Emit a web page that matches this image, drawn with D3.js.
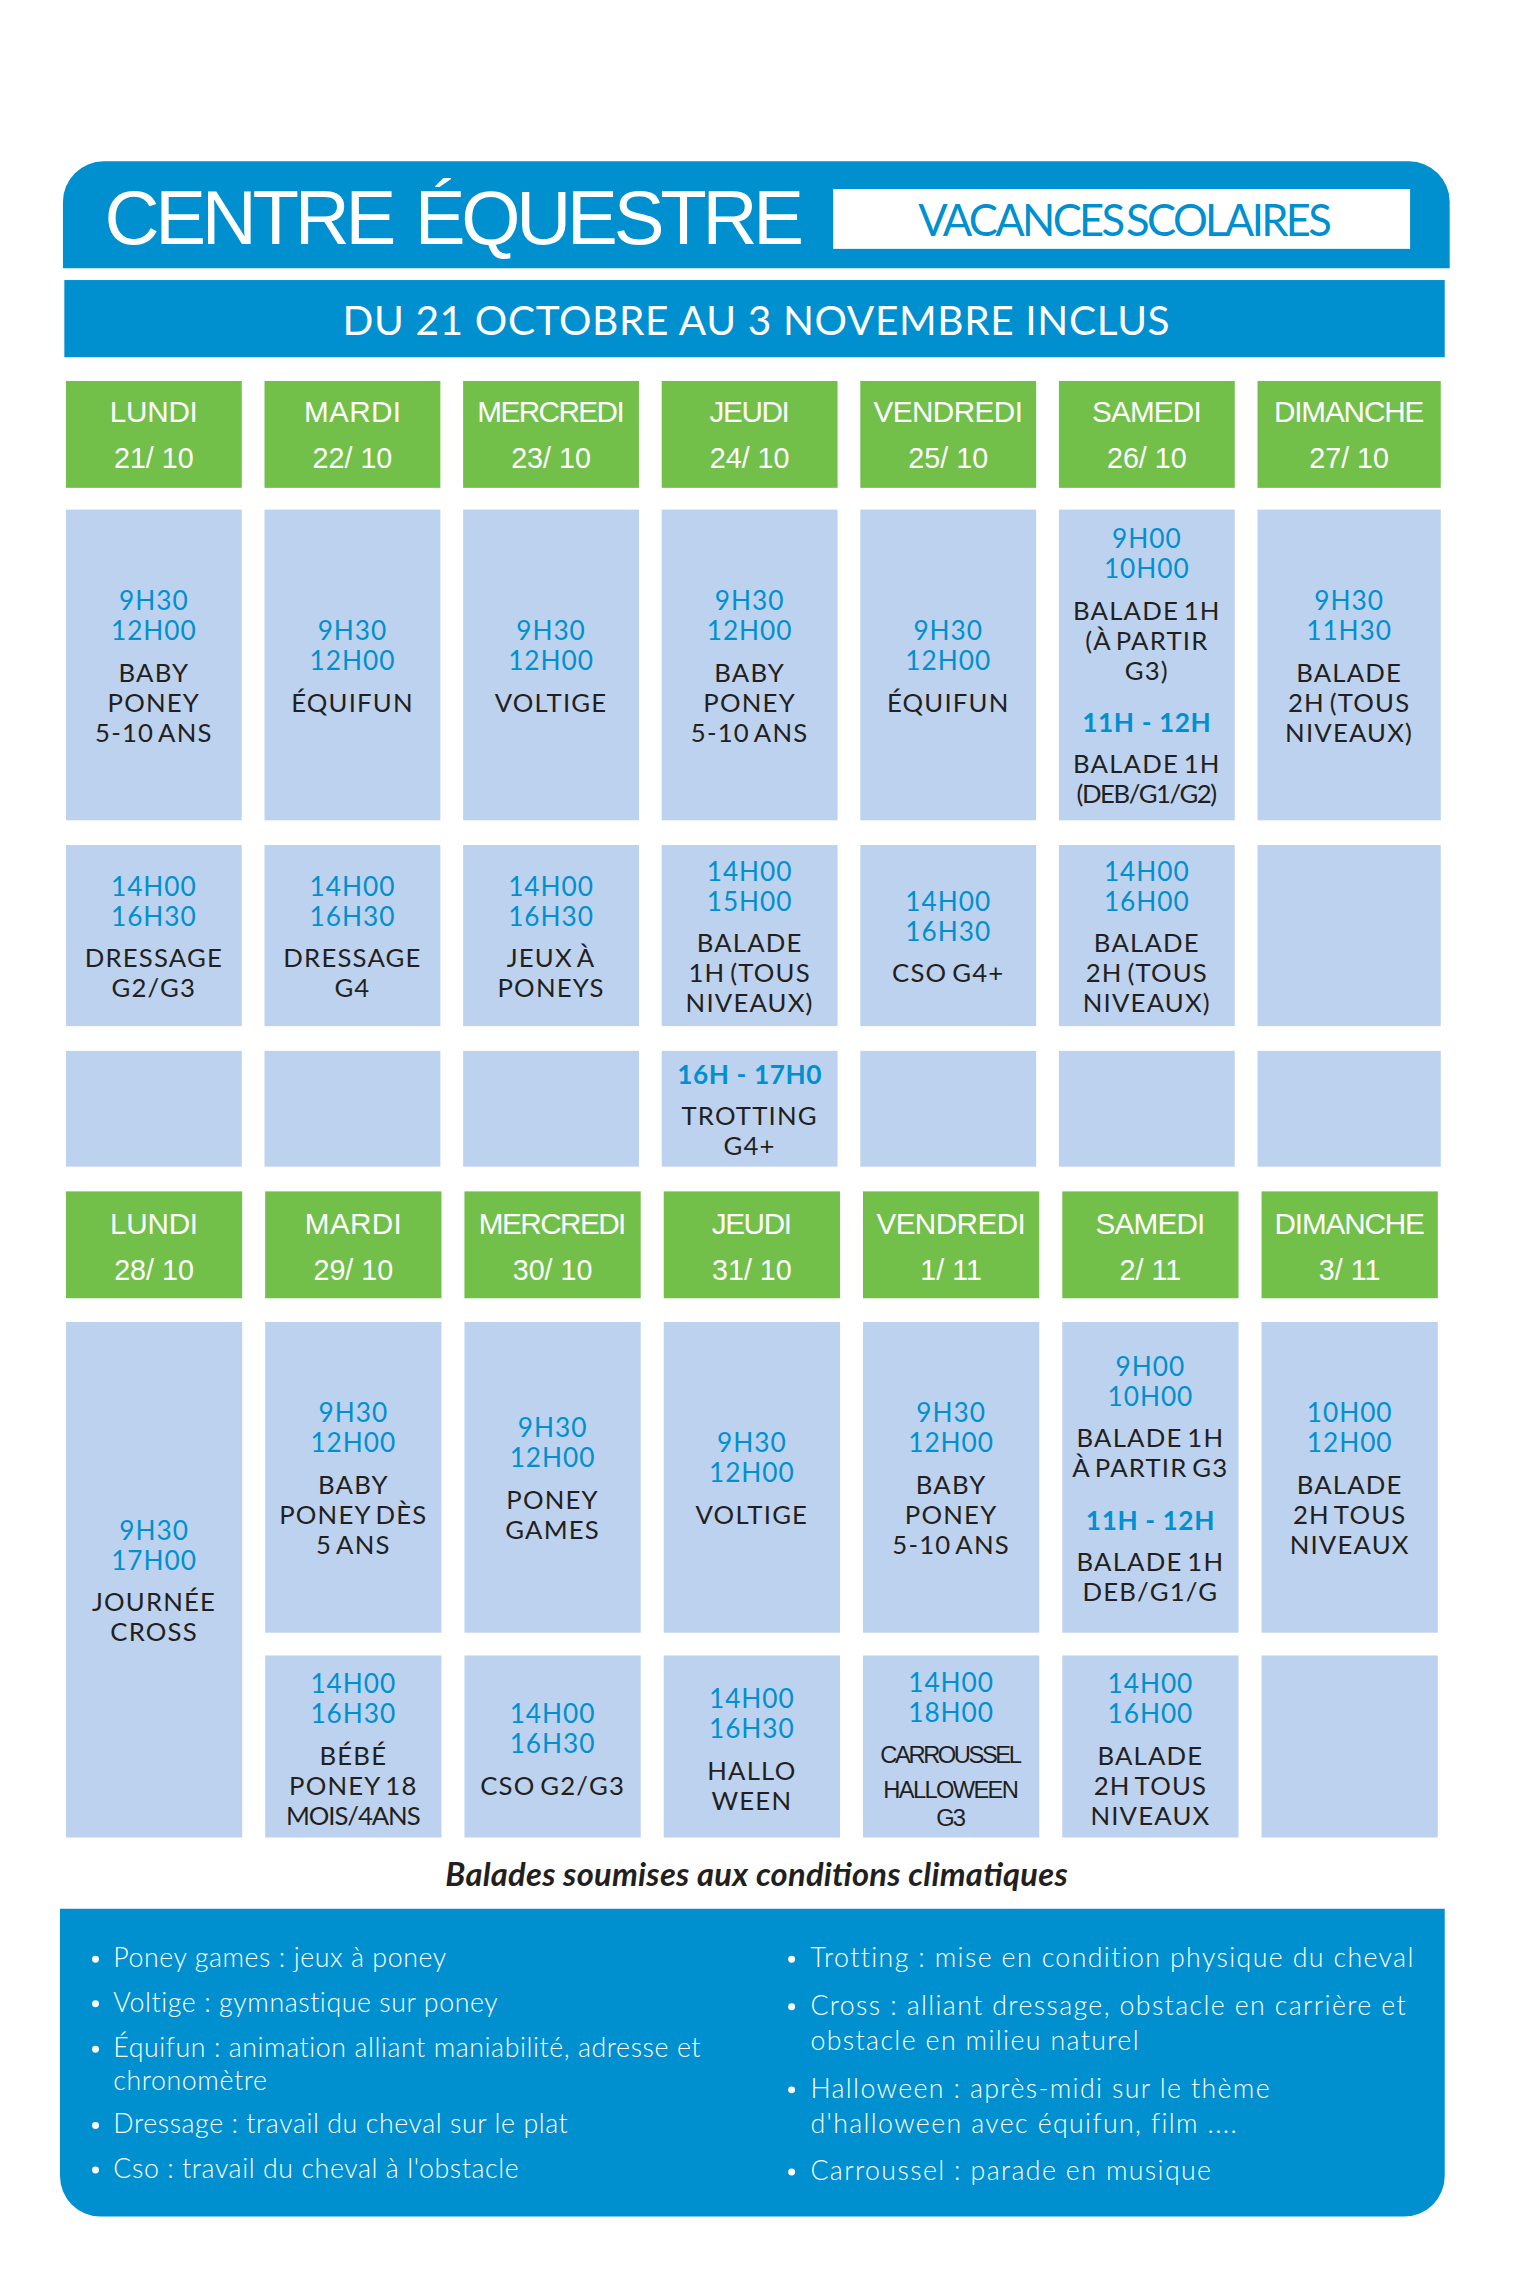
<!DOCTYPE html>
<html lang="fr">
<head>
<meta charset="utf-8">
<title>Centre équestre - vacances scolaires</title>
<script src="https://cdn.jsdelivr.net/npm/d3@7"></script>
<style>
body { margin: 0; background: #fff; }
svg { display: block; }
</style>
</head>
<body>
<div id="vis"></div>
<script>
var titleText = "CENTRE ÉQUESTRE";
var badgeText = "VACANCES SCOLAIRES";
var periodText = "DU 21 OCTOBRE AU 3 NOVEMBRE INCLUS";
var captionText = "Balades soumises aux conditions climatiques";

var dayNames = ["LUNDI", "MARDI", "MERCREDI", "JEUDI", "VENDREDI", "SAMEDI", "DIMANCHE"];
var week1Dates = ["21/ 10", "22/ 10", "23/ 10", "24/ 10", "25/ 10", "26/ 10", "27/ 10"];
var week2Dates = ["28/ 10", "29/ 10", "30/ 10", "31/ 10", "1/ 11", "2/ 11", "3/ 11"];

// each cell: times, labels, times, labels...
var week1Morning = [
    [["9H30", "12H00"], ["BABY", "PONEY", "5-10 ANS"]],
    [["9H30", "12H00"], ["ÉQUIFUN"]],
    [["9H30", "12H00"], ["VOLTIGE"]],
    [["9H30", "12H00"], ["BABY", "PONEY", "5-10 ANS"]],
    [["9H30", "12H00"], ["ÉQUIFUN"]],
    [["9H00", "10H00"], ["BALADE 1H", "(À PARTIR", "G3)"], ["11H - 12H"], ["BALADE 1H", "(DEB/G1/G2)"]],
    [["9H30", "11H30"], ["BALADE", "2H (TOUS", "NIVEAUX)"]]
];
var week1Afternoon = [
    [["14H00", "16H30"], ["DRESSAGE", "G2/G3"]],
    [["14H00", "16H30"], ["DRESSAGE", "G4"]],
    [["14H00", "16H30"], ["JEUX À", "PONEYS"]],
    [["14H00", "15H00"], ["BALADE", "1H (TOUS", "NIVEAUX)"]],
    [["14H00", "16H30"], ["CSO G4+"]],
    [["14H00", "16H00"], ["BALADE", "2H (TOUS", "NIVEAUX)"]],
    []
];
var week1Late = [
    [], [], [],
    [["16H - 17H0"], ["TROTTING", "G4+"]],
    [], [], []
];
var week2Morning = [
    [["9H30", "17H00"], ["JOURNÉE", "CROSS"]],
    [["9H30", "12H00"], ["BABY", "PONEY DÈS", "5 ANS"]],
    [["9H30", "12H00"], ["PONEY", "GAMES"]],
    [["9H30", "12H00"], ["VOLTIGE"]],
    [["9H30", "12H00"], ["BABY", "PONEY", "5-10 ANS"]],
    [["9H00", "10H00"], ["BALADE 1H", "À PARTIR G3"], ["11H - 12H"], ["BALADE 1H", "DEB/G1/G"]],
    [["10H00", "12H00"], ["BALADE", "2H TOUS", "NIVEAUX"]]
];
var week2Afternoon = [
    null,
    [["14H00", "16H30"], ["BÉBÉ", "PONEY 18", "MOIS/4ANS"]],
    [["14H00", "16H30"], ["CSO G2/G3"]],
    [["14H00", "16H30"], ["HALLO", "WEEN"]],
    [["14H00", "18H00"], ["CARROUSSEL", "HALLOWEEN", "G3"]],
    [["14H00", "16H00"], ["BALADE", "2H TOUS", "NIVEAUX"]],
    []
];

var legendLeft = [
    ["Poney games : jeux à poney"],
    ["Voltige : gymnastique sur poney"],
    ["Équifun : animation alliant maniabilité, adresse et", "chronomètre"],
    ["Dressage : travail du cheval sur le plat"],
    ["Cso : travail du cheval à l'obstacle"]
];
var legendRight = [
    ["Trotting : mise en condition physique du cheval"],
    ["Cross : alliant dressage, obstacle en carrière et", "obstacle en milieu naturel"],
    ["Halloween : après-midi sur le thème", "d'halloween avec équifun, film ...."],
    ["Carroussel : parade en musique"]
];

var BLUE = "#0090d0", GREEN = "#72bf4a", CELL = "#bdd2ee", INK = "#231f20";
var LATO = "Lato, sans-serif", ARIAL = "'Liberation Sans', Arial, sans-serif";

// the layout below is measured on a 1531 wide sheet
var svg = d3.select("#vis").append("svg")
    .attr("width", 1515)
    .attr("height", 2295)
    .attr("viewBox", "0 0 1531 2319.3");

// widths of the day names as set in the poster
var dayFit = {LUNDI: 89, MARDI: 98, MERCREDI: 149, JEUDI: 81, VENDREDI: 151, SAMEDI: 111, DIMANCHE: 152};

var x1 = d3.scaleBand().domain(dayNames).range([66.6, 1448.5]).paddingInner(0.1146);
var x2 = d3.scaleBand().domain(dayNames).range([66.6, 1453]).paddingInner(0.1155);

var rowNames = ["head1", "morning1", "afternoon1", "late1", "head2", "morning2", "afternoon2"];
var rowTop = d3.scaleOrdinal().domain(rowNames).range([385, 515, 854, 1062, 1204, 1336, 1673]);
var rowBottom = d3.scaleOrdinal().domain(rowNames).range([493, 829, 1037, 1179, 1312, 1650, 1857]);

function roundedBlock(x, y, w, h, r, atTop) {
    var p = d3.path();
    if (atTop) {
        p.moveTo(x, y + h);
        p.lineTo(x, y + r);
        p.arcTo(x, y, x + r, y, r);
        p.lineTo(x + w - r, y);
        p.arcTo(x + w, y, x + w, y + r, r);
        p.lineTo(x + w, y + h);
    } else {
        p.moveTo(x, y);
        p.lineTo(x + w, y);
        p.lineTo(x + w, y + h - r);
        p.arcTo(x + w, y + h, x + w - r, y + h, r);
        p.lineTo(x + r, y + h);
        p.arcTo(x, y + h, x, y + h - r, r);
    }
    p.closePath();
    return p.toString();
}

function addText(parent, str, x, y, o) {
    var t = parent.append("text")
        .attr("x", x)
        .attr("y", y)
        .attr("text-anchor", o.anchor || "middle")
        .attr("font-family", o.family || LATO)
        .attr("font-size", o.size)
        .attr("font-weight", o.weight || 400)
        .attr("font-style", o.italic ? "italic" : null)
        .attr("fill", o.fill || INK)
        .attr("letter-spacing", o.spacing || null)
        .attr("word-spacing", o.words || null)
        .text(str);
    if (o.fit) {
        t.attr("textLength", o.fit).attr("lengthAdjust", "spacing");
    }
    return t;
}

// banner
svg.append("path").attr("d", roundedBlock(63.6, 163, 1401.4, 108, 41, true)).attr("fill", BLUE);
addText(svg, titleText, 105.5, 247, {family: ARIAL, size: 77, fill: "#fff", anchor: "start", fit: 707, words: 6});
svg.append("rect").attr("x", 842).attr("y", 191).attr("width", 583).attr("height", 60.5).attr("fill", "#fff");
addText(svg, badgeText, 1137, 238, {size: 44, fill: BLUE, fit: 418, words: -5});
svg.append("rect").attr("x", 65).attr("y", 283).attr("width", 1395).attr("height", 78).attr("fill", BLUE);
addText(svg, periodText, 764, 338.5, {size: 41, fill: "#fff", fit: 836});

function colWidth(x, i) {
    return x === x1 && i === 6 ? x.bandwidth() + 7.5 : x.bandwidth();
}

function drawHead(row, x, dates, nameDy, dateDy) {
    var g = svg.append("g");
    dayNames.forEach(function (d, i) {
        var w = colWidth(x, i), cx = x(d) + w / 2;
        g.append("rect")
            .attr("x", x(d))
            .attr("y", rowTop(row))
            .attr("width", w)
            .attr("height", rowBottom(row) - rowTop(row))
            .attr("fill", GREEN);
        addText(g, d, cx, rowTop(row) + nameDy, {family: ARIAL, size: 30, fill: "#fff", fit: dayFit[d]});
        addText(g, dates[i], cx, rowTop(row) + dateDy, {family: ARIAL, size: 29, fill: "#fff"});
    });
}

// flatten a cell to lines, with the kind of each one
function cellLines(cell) {
    var lines = [];
    cell.forEach(function (slot, s) {
        slot.forEach(function (str) {
            var kind = s % 2 ? "label" : (str.indexOf(" - ") > 0 ? "bold" : "time");
            lines.push({str: str, kind: kind});
        });
    });
    return lines;
}

function lineGap(a, b) {
    if (a.kind === b.kind) {
        return a.str === "CARROUSSEL" ? 35 : a.str === "HALLOWEEN" ? 28 : 30.3;
    }
    if (a.kind === "time") { return 42; }
    if (a.kind === "bold") { return 41.5; }
    return 53;
}

var tightFit = {CARROUSSEL: 143, HALLOWEEN: 137, G3: 30};
var labelFit = {"(DEB/G1/G2)": 142, "MOIS/4ANS": 136};

function lineStyle(line) {
    if (line.kind === "time") {
        return {size: 26.5, fill: BLUE, spacing: 1};
    }
    if (line.kind === "bold") {
        return {size: 26.5, fill: BLUE, weight: 700, spacing: 0.6};
    }
    if (tightFit[line.str]) {
        return {size: 24, fit: tightFit[line.str], family: ARIAL};
    }
    if (labelFit[line.str]) {
        return {size: 26, fit: labelFit[line.str]};
    }
    return {size: 26, spacing: 1.2, words: -3};
}

function drawRow(row, x, cells, lastRow, shift) {
    var g = svg.append("g");
    cells.forEach(function (cell, i) {
        if (cell === null) { return; }
        var d = dayNames[i],
            w = colWidth(x, i),
            top = rowTop(row),
            bottom = lastRow && i === 0 ? rowBottom(lastRow) : rowBottom(row),
            cx = x(d) + w / 2,
            lines = cellLines(cell),
            total = 0,
            y;
        g.append("rect")
            .attr("x", x(d))
            .attr("y", top)
            .attr("width", w)
            .attr("height", bottom - top)
            .attr("fill", CELL);
        lines.forEach(function (l, k) {
            if (k > 0) { total += lineGap(lines[k - 1], l); }
        });
        y = (top + bottom) / 2 - total / 2 + (shift || 0);
        lines.forEach(function (l, k) {
            if (k > 0) { y += lineGap(lines[k - 1], l); }
            addText(g, l.str, cx, y + 11, lineStyle(l));
        });
    });
}

drawHead("head1", x1, week1Dates, 41, 88);
drawRow("morning1", x1, week1Morning);
drawRow("afternoon1", x1, week1Afternoon);
drawRow("late1", x1, week1Late);
drawHead("head2", x2, week2Dates, 43.5, 90);
drawRow("morning2", x2, week2Morning, "afternoon2");
drawRow("afternoon2", x2, week2Afternoon, null, 1.5);

addText(svg, captionText, 764.5, 1906, {size: 33, weight: 700, italic: true, fit: 629});

// legend
svg.append("path").attr("d", roundedBlock(60.6, 1929, 1399.4, 311, 41, false)).attr("fill", BLUE);

var leftBaselines = [1988, 2033, 2079, 2112, 2156, 2201];
var rightBaselines = [1988, 2036, 2072, 2120, 2156, 2203];

function drawLegend(items, baselines, bulletX, textX, spacing) {
    var g = svg.append("g"), n = 0;
    items.forEach(function (item) {
        g.append("circle")
            .attr("cx", bulletX)
            .attr("cy", baselines[n] - 8)
            .attr("r", 3.5)
            .attr("fill", "#fff");
        item.forEach(function (line) {
            addText(g, line, textX, baselines[n], {size: 27, weight: 300, fill: "#fff", anchor: "start", spacing: spacing});
            n += 1;
        });
    });
}

drawLegend(legendLeft, leftBaselines, 96.5, 114.5, 0.6);
drawLegend(legendRight, rightBaselines, 800, 819, 1.4);
</script>
</body>
</html>
